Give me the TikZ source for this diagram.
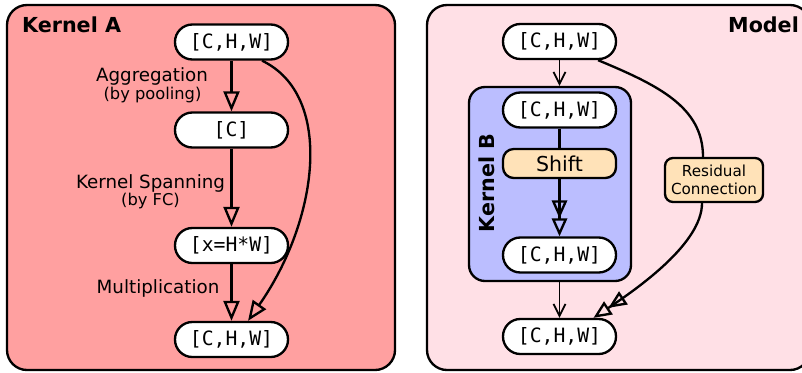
\documentclass[tikz,border=0pt]{standalone}
\usepackage{fontspec}
\setmainfont{DejaVu Sans}
\setmonofont{DejaVu Sans Mono}
\usetikzlibrary{arrows.meta}
\definecolor{panelAfill}{HTML}{FFA0A0}
\definecolor{panelBfill}{HTML}{FFE0E6}
\definecolor{kernelfill}{HTML}{BBBEFF}
\definecolor{shiftfill}{HTML}{FFE2B8}

\begin{document}
\begin{tikzpicture}[x=0.75pt,y=-0.75pt,line width=1.75pt,
    tensor/.style={draw,fill=white,rounded corners=13pt,minimum width=84.75pt,minimum height=26.25pt,inner sep=0pt,font=\ttfamily\fontsize{14.8}{16}\selectfont},
    opbox/.style={draw,fill=shiftfill,rounded corners=8pt,minimum width=84.75pt,minimum height=21.75pt,inner sep=0pt,font=\fontsize{15.4}{17}\selectfont},
    notebox/.style={draw,fill=shiftfill,rounded corners=6pt,minimum width=73.5pt,minimum height=33pt,inner sep=0pt,align=center,font=\fontsize{11.4}{13.5}\selectfont},
    kernelbox/.style={draw,fill=kernelfill,rounded corners=12pt,minimum width=121.5pt,minimum height=145.5pt},
    paneltitle/.style={inner sep=0pt,font=\bfseries\fontsize{15.5}{18}\selectfont},
    lbl/.style={anchor=base,font=\fontsize{13.7}{16}\selectfont},
    sublbl/.style={anchor=base,font=\fontsize{12.2}{14}\selectfont},
    tri/.style={-{Triangle[open,length=15pt,width=12pt]}},
    tritwo/.style={-{Triangle[open,length=13.5pt,width=11.5pt,sep=0pt]Triangle[open,length=13.5pt,width=11.5pt]}},
    vee/.style={line width=1.3pt,-{Straight Barb[length=9pt,width=9pt]}}]
  \clip (0,0) rectangle (802,372);
  \draw[fill=panelAfill,rounded corners=15pt] (7,5) rectangle (395,370);
  \draw[fill=panelBfill,rounded corners=15pt] (427,5) rectangle (810,370);
  \node[paneltitle,anchor=base west] (titleA) at (21,32) {Kernel A};
  \node[paneltitle,anchor=base east] (titleM) at (800,32) {Model};

  \node[tensor] (inA) at (231.5,42) {[C,H,W]};
  \node[tensor] (poolA) at (231.5,130) {[C]};
  \node[tensor] (spanA) at (231.5,245.5) {[x=H*W]};
  \node[tensor] (outA) at (231.5,339.5) {[C,H,W]};
  \node[lbl] (aggrA) at (152,81) {Aggregation};
  \node[sublbl] (poolingA) at (152.5,99.5) {(by pooling)};
  \node[lbl] (spanlblA) at (150.5,188) {Kernel Spanning};
  \node[sublbl] (fcA) at (150.5,205) {(by FC)};
  \node[lbl] (multA) at (158,293) {Multiplication};
  \begin{scope}[tri]
    \draw (inA) to (poolA);
    \draw (poolA) to (spanA);
    \draw (spanA) to (outA);
    \draw ([xshift=22.9pt]inA.south) .. controls +(73,35) and +(70,-100) .. ([xshift=12.4pt]outA.north);
  \end{scope}

  \node[tensor] (inB) at (559.5,41.5) {[C,H,W]};
  \node[kernelbox] (kernelB) at (550,184) {};
  \node[paneltitle,rotate=90] (titleB) at (487,183) {Kernel B};
  \node[tensor] (shinB) at (559.5,110) {[C,H,W]};
  \node[opbox] (shiftB) at (559.5,163.5) {Shift};
  \node[tensor] (shoutB) at (559.5,255) {[C,H,W]};
  \node[tensor] (outB) at (559.5,336.5) {[C,H,W]};
  \node[notebox] (resB) at (714,180) {Residual\\Connection};
  \draw[vee] (inB) to (inB |- kernelB.north);
  \draw[vee] (outB |- kernelB.south) to (outB);
  \draw (shinB) to (shiftB);
  \draw[tritwo] (shiftB) to (shoutB);
  \draw ([xshift=28.9pt]inB.south) .. controls +(60,25) and +(0,-50) .. ([xshift=-8.25pt]resB.north);
  \draw[tritwo] ([xshift=-9pt]resB.south) .. controls +(0,40) and +(45,-30) .. ([xshift=25.5pt]outB.north);
\end{tikzpicture}
\end{document}
